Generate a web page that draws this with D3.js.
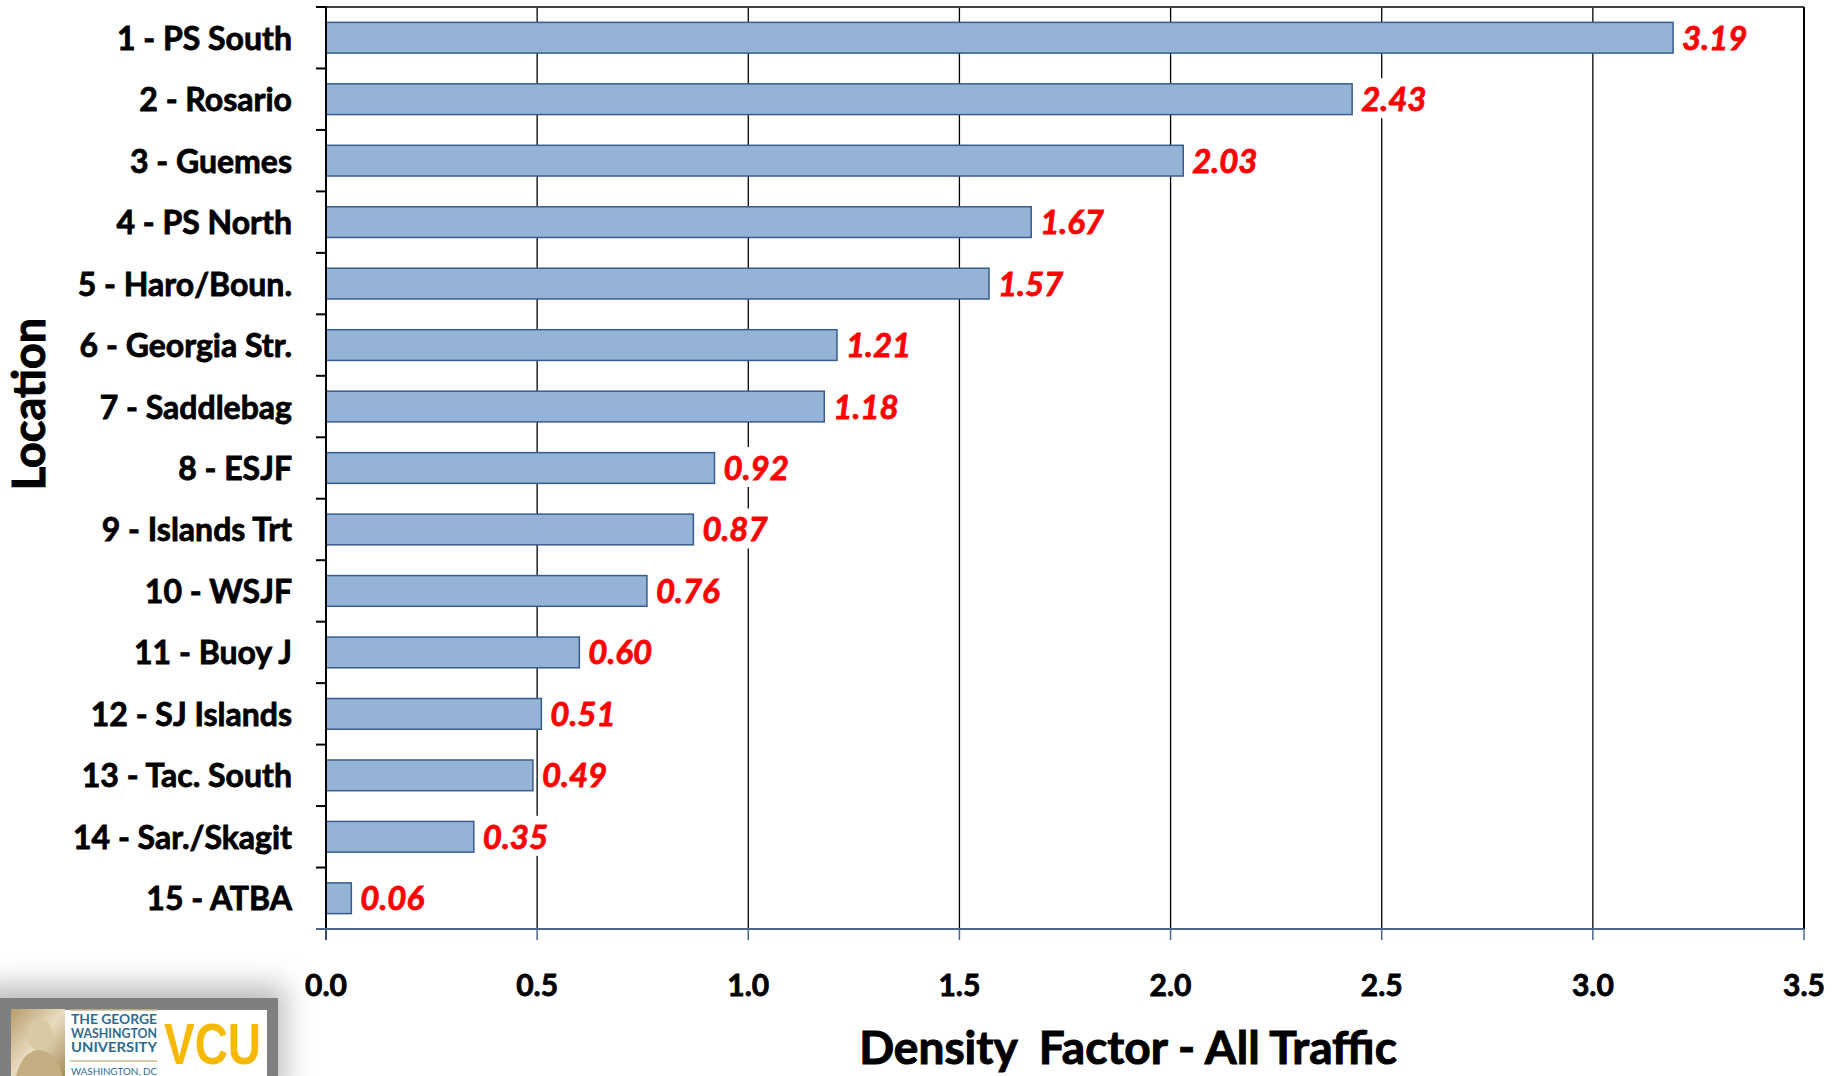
<!DOCTYPE html>
<html>
<head>
<meta charset="utf-8">
<script src="https://cdn.jsdelivr.net/npm/d3@7"></script>
<style>
html,body{margin:0;padding:0;background:#fff;}
svg{display:block;}
</style>
</head>
<body>
<svg id="chart" width="1834" height="1076"></svg>
<script>
const categories = ["1 - PS South","2 - Rosario","3 - Guemes","4 - PS North","5 - Haro/Boun.","6 - Georgia Str.","7 - Saddlebag","8 - ESJF","9 - Islands Trt","10 - WSJF","11 - Buoy J","12 - SJ Islands","13 - Tac. South","14 - Sar./Skagit","15 - ATBA"];
const values = [3.19, 2.43, 2.03, 1.67, 1.57, 1.21, 1.18, 0.92, 0.87, 0.76, 0.60, 0.51, 0.49, 0.35, 0.06];
const xTicks = [0, 0.5, 1.0, 1.5, 2.0, 2.5, 3.0, 3.5];
const xTitle = "Density  Factor - All Traffic";
const yTitle = "Location";

(function(){
const svg = d3.select("#chart");
const pL = 326, pR = 1804, pT = 7, pB = 929;
const font = "Lato, 'Open Sans', sans-serif";

const x = d3.scaleLinear().domain([0, 3.5]).range([pL, pR]);
const y = d3.scaleBand().domain(categories).range([pT, pB]).paddingInner(0.5).paddingOuter(0.25);

// gridlines
svg.append("g").selectAll("line").data(xTicks.filter(t => t > 0 && t < 3.5)).join("line")
  .attr("x1", d => x(d)).attr("x2", d => x(d)).attr("y1", pT).attr("y2", pB)
  .attr("stroke", "#000").attr("stroke-width", 1.3);
// plot border top/right
svg.append("line").attr("x1", pL).attr("x2", pR).attr("y1", pT).attr("y2", pT)
  .attr("stroke", "#404040").attr("stroke-width", 2);
svg.append("line").attr("x1", pR).attr("x2", pR).attr("y1", pT).attr("y2", pB)
  .attr("stroke", "#000").attr("stroke-width", 2);

// bars
svg.append("g").selectAll("rect").data(values).join("rect")
  .attr("x", x(0)).attr("y", (d, i) => y(categories[i]))
  .attr("width", d => x(d) - x(0)).attr("height", y.bandwidth())
  .attr("fill", "#95b3d7").attr("stroke", "#385d8a").attr("stroke-width", 1.5);

// value labels with white background
const vl = svg.append("g").selectAll("g").data(values).join("g");
vl.each(function(d, i) {
  const g = d3.select(this);
  const t = g.append("text")
    .attr("x", x(d) + 9).attr("y", y(categories[i]) + y.bandwidth() / 2 + 12)
    .attr("font-family", font).attr("font-weight", "bold").attr("font-style", "italic")
    .attr("font-size", 33).attr("fill", "#ff0000").attr("stroke", "#ff0000").attr("stroke-width", 0.8)
    .text(d.toFixed(2));
  const bb = t.node().getBBox();
  g.insert("rect", "text").attr("x", bb.x - 2).attr("y", bb.y).attr("width", bb.width + 4).attr("height", bb.height).attr("fill", "#fff");
});

// y axis
const yAxis = svg.append("g");
yAxis.append("line").attr("x1", pL).attr("x2", pL).attr("y1", pT).attr("y2", pB + 11)
  .attr("stroke", "#000").attr("stroke-width", 2);
const step = y.step();
const boundaries = d3.range(categories.length + 1).map(i => pT + i * step);
yAxis.selectAll("line.tk").data(boundaries).join("line").attr("class","tk")
  .attr("x1", pL - 10).attr("x2", pL).attr("y1", d => d).attr("y2", d => d)
  .attr("stroke", "#000").attr("stroke-width", 2);
yAxis.selectAll("text").data(categories).join("text")
  .attr("x", 292).attr("y", d => y(d) + y.bandwidth() / 2 + 12)
  .attr("text-anchor", "end").attr("font-family", font).attr("font-weight", "bold")
  .attr("font-size", 32).attr("fill", "#000").attr("stroke", "#000").attr("stroke-width", 0.8).text(d => d);

// x axis
const xAxis = svg.append("g");
xAxis.append("line").attr("x1", pL - 10).attr("x2", pR).attr("y1", pB).attr("y2", pB)
  .attr("stroke", "#4a6688").attr("stroke-width", 2);
xAxis.selectAll("line.tk").data(xTicks).join("line").attr("class","tk")
  .attr("x1", d => x(d)).attr("x2", d => x(d)).attr("y1", pB).attr("y2", pB + 11)
  .attr("stroke", "#4a6688").attr("stroke-width", 1.5);
xAxis.selectAll("text").data(xTicks).join("text")
  .attr("x", d => x(d)).attr("y", 996).attr("text-anchor", "middle")
  .attr("font-family", font).attr("font-weight", "bold").attr("font-size", 30).attr("fill", "#000")
  .attr("stroke", "#000").attr("stroke-width", 0.8)
  .text(d => d3.format(".1f")(d));

// titles
svg.append("text").attr("x", 1128).attr("y", 1064).attr("text-anchor", "middle")
  .attr("font-family", font).attr("font-weight", "bold").attr("font-size", 46).attr("fill", "#000")
  .attr("stroke", "#000").attr("stroke-width", 1)
  .attr("xml:space", "preserve").style("white-space", "pre").text(xTitle);
svg.append("text").attr("transform", "translate(45,404) rotate(-90)").attr("text-anchor", "middle")
  .attr("font-family", font).attr("font-weight", "bold").attr("font-size", 45).attr("fill", "#000")
  .attr("stroke", "#000").attr("stroke-width", 1).text(yTitle);

// logo
const defs = svg.append("defs");
defs.append("filter").attr("id", "blur").attr("x", "-50%").attr("y", "-50%").attr("width", "200%").attr("height", "200%")
  .append("feGaussianBlur").attr("stdDeviation", 14);
const pg = defs.append("linearGradient").attr("id", "port").attr("x1", 0).attr("y1", 0).attr("x2", 1).attr("y2", 1);
pg.append("stop").attr("offset", 0).attr("stop-color", "#b79d6a");
pg.append("stop").attr("offset", 0.5).attr("stop-color", "#e8dcc0");
pg.append("stop").attr("offset", 1).attr("stop-color", "#a88c58");
const logo = svg.append("g");
logo.append("rect").attr("x", -20).attr("y", 985).attr("width", 305).attr("height", 110).attr("fill", "#bbb").attr("filter", "url(#blur)");
logo.append("rect").attr("x", 0).attr("y", 998).attr("width", 278).attr("height", 78).attr("fill", "#7f7f7f");
logo.append("rect").attr("x", 11).attr("y", 1010).attr("width", 256).attr("height", 66).attr("fill", "#fff");
logo.append("rect").attr("x", 11).attr("y", 1009).attr("width", 54).attr("height", 67).attr("fill", "url(#port)");
logo.append("ellipse").attr("cx", 40).attr("cy", 1035).attr("rx", 13).attr("ry", 16).attr("fill", "#d9c9a4");
logo.append("path").attr("d", "M16,1076 Q22,1052 38,1050 Q58,1052 62,1076 Z").attr("fill", "#c4ad80");
logo.append("line").attr("x1", 70).attr("x2", 157).attr("y1", 1010).attr("y2", 1010).attr("stroke", "#c9b98f").attr("stroke-width", 1.5);
logo.append("line").attr("x1", 70).attr("x2", 157).attr("y1", 1061).attr("y2", 1061).attr("stroke", "#c9b98f").attr("stroke-width", 1.5);
const gw = ["THE GEORGE", "WASHINGTON", "UNIVERSITY"];
logo.selectAll("text.gw").data(gw).join("text").attr("class","gw")
  .attr("x", 71).attr("y", (d, i) => 1024 + i * 14).attr("font-family", font).attr("font-weight", "bold")
  .attr("font-size", 12.5).attr("fill", "#2e6b8f").attr("textLength", 86).attr("lengthAdjust", "spacingAndGlyphs").text(d => d);
logo.append("text").attr("x", 71).attr("y", 1075).attr("font-family", font).attr("font-size", 10)
  .attr("fill", "#2e6b8f").attr("textLength", 86).attr("lengthAdjust", "spacingAndGlyphs").text("WASHINGTON, DC");
logo.append("text").attr("x", 164).attr("y", 1064).attr("font-family", "'Liberation Sans', Arial, sans-serif").attr("font-weight", "bold")
  .attr("font-size", 58).attr("fill", "#f7b800").attr("textLength", 97).attr("lengthAdjust", "spacingAndGlyphs").text("VCU");
})();
</script>
</body>
</html>
